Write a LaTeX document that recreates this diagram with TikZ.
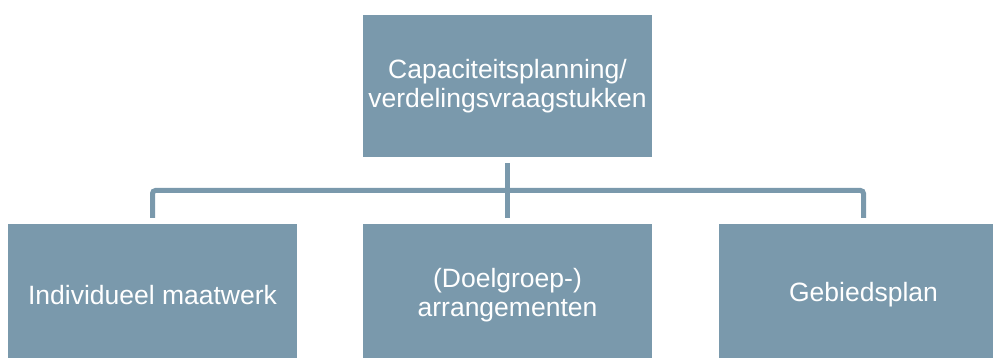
\documentclass[tikz,border=0pt]{standalone}
\usepackage{fontspec}
\setmainfont{Liberation Sans}
\definecolor{boxblue}{HTML}{7A99AC}
\begin{document}
\begin{tikzpicture}[x=1pt, y=1pt,
    box/.style={fill=boxblue, text=white, align=center, inner sep=0pt,
        minimum width=289pt, minimum height=142pt,
        font=\fontsize{26.5}{29}\selectfont},
    link/.style={draw=boxblue, line width=5pt, rounded corners=3pt}]
    \clip (0, 0) rectangle (993, 358);
    
    % Top box
    \node[box] (plan) at (507.5, 272) {Capaciteitsplanning/\\verdelingsvraagstukken};
    
    % Bottom row
    \node[box] (maat) at (152.5, 63) {Individueel maatwerk};
    \node[box] (arr) at (507.5, 63) {(Doelgroep-)\\arrangementen};
    \node[box] (gebied) at (863.5, 63) {Gebiedsplan};
    
    % Connectors
    \coordinate (bar) at (507.5, 167.5);
    \draw[link] ([yshift=-6pt]plan.south) -- ([yshift=6pt]arr.north);
    \draw[link] ([yshift=6pt]maat.north) |- (bar) -| ([yshift=6pt]gebied.north);
\end{tikzpicture}
\end{document}
